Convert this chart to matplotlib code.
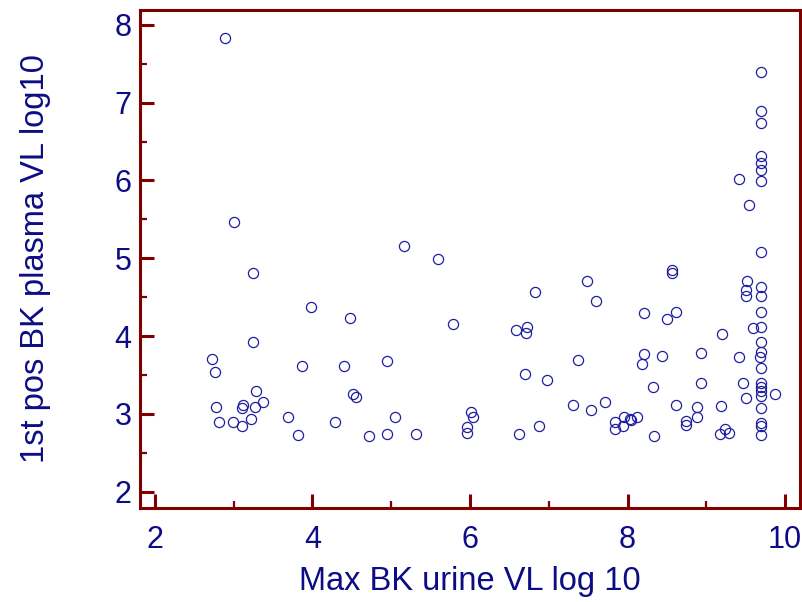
import matplotlib
matplotlib.use("Agg")
import matplotlib.pyplot as plt
from matplotlib.ticker import MultipleLocator

# max BK urine VL (log10) vs 1st positive BK plasma VL (log10)
urine = [2.89, 3.01, 5.16, 5.59,
         9.70, 9.70, 9.70, 9.70, 9.70, 9.70, 9.70, 9.41, 9.54, 9.70,
         3.24, 3.98, 4.48, 5.78, 3.25, 2.73, 2.76, 3.87, 4.40, 4.94,
         3.28, 3.37, 2.78, 3.12, 3.11, 3.27, 4.52, 4.55,
         2.81, 2.99, 3.11, 3.22, 3.69, 3.82, 4.28, 4.72, 4.94, 5.05, 5.32,
         6.01, 6.04, 5.96, 5.96,
         6.83, 7.48, 7.60, 8.56, 8.56, 6.59, 6.72, 6.71, 8.21, 8.50, 8.61,
         9.52, 9.51, 9.51, 9.70, 9.70, 9.70, 9.70, 9.59, 9.20,
         9.70, 9.70, 9.68, 9.70, 9.41, 8.93, 8.44, 8.21, 8.19, 7.37,
         6.70, 6.98, 8.32, 8.93, 9.46, 9.50, 9.87,
         9.70, 9.70, 9.70, 9.70, 9.70, 9.70, 9.70, 9.70,
         7.31, 7.54, 7.71, 7.84, 7.84, 7.94, 7.96, 8.03, 8.05, 8.12,
         6.62, 6.88, 8.33, 8.61, 8.88, 8.88, 8.74, 8.74, 9.19, 9.17, 9.24, 9.29]
plasma = [7.83, 5.47, 5.16, 4.99,
          7.39, 6.89, 6.74, 6.31, 6.22, 6.13, 5.99, 6.02, 5.68, 5.08,
          4.81, 4.37, 4.23, 4.15, 3.93, 3.70, 3.54, 3.62, 3.62, 3.68,
          3.30, 3.15, 3.09, 3.12, 3.08, 3.09, 3.25, 3.22,
          2.90, 2.89, 2.85, 2.93, 2.96, 2.73, 2.89, 2.72, 2.74, 2.96, 2.74,
          3.03, 2.96, 2.83, 2.76,
          4.57, 4.71, 4.45, 4.85, 4.81, 4.08, 4.12, 4.04, 4.30, 4.22, 4.31,
          4.71, 4.59, 4.52, 4.63, 4.52, 4.31, 4.12, 4.11, 4.03,
          3.92, 3.79, 3.73, 3.59, 3.73, 3.78, 3.74, 3.77, 3.64, 3.69,
          3.51, 3.43, 3.35, 3.40, 3.40, 3.21, 3.26,
          3.40, 3.34, 3.29, 3.23, 3.07, 2.88, 2.84, 2.73,
          3.11, 3.05, 3.15, 2.89, 2.80, 2.84, 2.96, 2.94, 2.92, 2.96,
          2.74, 2.84, 2.72, 3.11, 3.09, 2.96, 2.91, 2.86, 3.10, 2.74, 2.80, 2.76]

xticks = [2, 4, 6, 8, 10]
yticks = [2, 3, 4, 5, 6, 7, 8]

frame = "#800000"
navy = "#0c0c84"

plt.rcParams["font.family"] = ["Liberation Sans", "DejaVu Sans"]

fig = plt.figure(figsize=(8.03, 6.02), dpi=100)
ax = fig.add_axes([0.1743, 0.1561, 0.822, 0.8272])

ax.plot(urine, plasma, "o", markersize=7.3, markerfacecolor="none",
        markeredgecolor="#1e1ea0", markeredgewidth=0.9, clip_on=False)

ax.set_xlim(1.81, 10.19)
ax.set_ylim(1.79, 8.19)
ax.set_xticks(xticks)
ax.set_yticks(yticks)
ax.xaxis.set_minor_locator(MultipleLocator(1))
ax.yaxis.set_minor_locator(MultipleLocator(0.5))

for s in ax.spines.values():
    s.set_color(frame)
    s.set_linewidth(2.2)

ax.tick_params(which="major", direction="in", length=10, width=2.2,
               color=frame, labelcolor=navy, labelsize=22)
ax.tick_params(which="minor", direction="in", length=5, width=1.6, color=frame)
ax.tick_params(axis="x", which="major", pad=12)
ax.tick_params(axis="y", which="major", pad=6)

ax.set_xlabel("Max BK urine VL log 10", fontsize=23.5, color=navy, labelpad=8)
ax.set_ylabel("1st pos BK plasma VL log10", fontsize=23.5, color=navy, labelpad=46)

fig.savefig("out.png", dpi=100)
